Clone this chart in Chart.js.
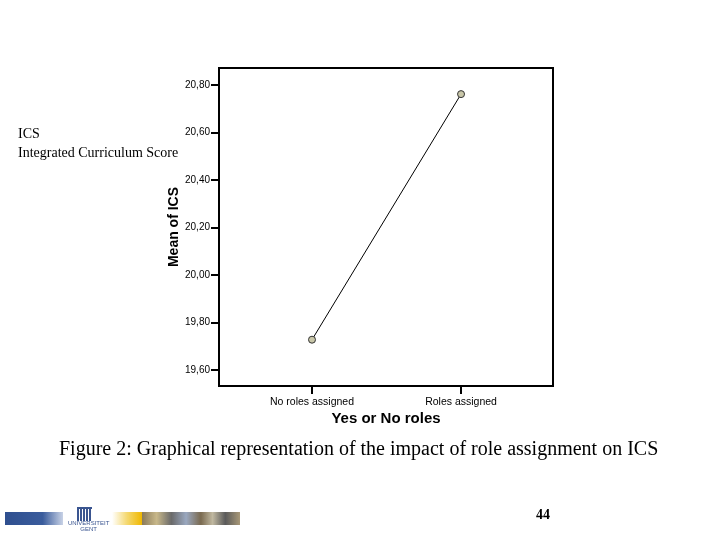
<!DOCTYPE html>
<html>
<head>
<meta charset="utf-8">
<script src="https://cdn.jsdelivr.net/npm/chart.js@4.4.0/dist/chart.umd.min.js"></script>
<style>
  html, body { margin: 0; padding: 0; background: #fff; }
  #wrap { position: relative; width: 720px; height: 540px; overflow: hidden; }
  #c { position: absolute; left: 0; top: 0; }
  .note { position: absolute; font-family: "Liberation Serif", "DejaVu Serif", serif; color: #000; white-space: nowrap; }
  .logo { position: absolute; }
</style>
</head>
<body>
<div id="wrap">
  <canvas id="c" width="720" height="540"></canvas>
  <div class="note" style="left:18px; top:124px; font-size:14px; line-height:19px;">ICS<br>Integrated Curriculum Score</div>
  <div class="note" style="left:59px; top:437px; font-size:20px;">Figure 2: Graphical representation of the impact of role assignment on ICS</div>
  <div class="note" style="left:536px; top:507px; font-size:14px; font-weight:bold;">44</div>
  <div class="logo" style="left:5px; top:512px; width:58px; height:13px; background:linear-gradient(to right,#2f4f8f 0%,#3a5c9c 65%,#c8d2e6 100%);"></div>
  <div class="logo" style="left:77px; top:507px; width:15px; height:12px; background:repeating-linear-gradient(to right,#3a5590 0 2px,#fff 2px 3px); border-top:2px solid #3a5590;"></div>
  <div class="note" style="left:68px; top:520px; font-size:6px; color:#3a5590; font-family:'Liberation Sans',sans-serif; line-height:6px; text-align:center;">UNIVERSITEIT<br>GENT</div>
  <div class="logo" style="left:112px; top:512px; width:30px; height:13px; background:linear-gradient(to right,#fff 0%,#f4d870 50%,#f0b800 100%);"></div>
  <div class="logo" style="left:142px; top:512px; width:98px; height:13px; background:linear-gradient(to right,#8a7a5a 0%,#c8b88a 15%,#6a6a6a 30%,#9aa8c0 45%,#7a6a50 60%,#c0b8a0 72%,#5a5a5a 85%,#a89878 100%);"></div>
</div>
<script>
const categories = ["No roles assigned", "Roles assigned"];
const meanICS = [19.728, 20.762];
const yTickValues = [19.6, 19.8, 20.0, 20.2, 20.4, 20.6, 20.8];
const yTickLabels = ["19,60", "19,80", "20,00", "20,20", "20,40", "20,60", "20,80"];
const xTitle = "Yes or No roles";
const yTitle = "Mean of ICS";

const framePlugin = {
  id: 'frame',
  afterDatasetsDraw(chart) {
    const a = chart.chartArea, ctx = chart.ctx;
    ctx.save();
    ctx.strokeStyle = '#000';
    ctx.lineWidth = 2;
    ctx.strokeRect(a.left, a.top, a.right - a.left, a.bottom - a.top);
    ctx.restore();
  }
};

new Chart(document.getElementById('c'), {
  type: 'line',
  data: {
    datasets: [{
      data: meanICS.map((v, i) => ({ x: i, y: v })),
      borderColor: '#000',
      borderWidth: 1,
      pointRadius: 3.5,
      pointBackgroundColor: '#c8c6a8',
      pointBorderColor: '#333',
      pointBorderWidth: 1,
      tension: 0
    }]
  },
  options: {
    responsive: false,
    animation: false,
    devicePixelRatio: 1,
    layout: { padding: { left: 160, top: 68, right: 167, bottom: 112 } },
    plugins: { legend: { display: false }, tooltip: { enabled: false } },
    scales: {
      x: {
        type: 'linear',
        min: -0.624,
        max: 1.617,
        afterBuildTicks(scale) { scale.ticks = categories.map((c, i) => ({ value: i })); },
        afterFit(scale) { scale.height = 42; },
        ticks: {
          callback: (v) => categories[v],
          color: '#000',
          font: { family: 'Liberation Sans, Arial, sans-serif', size: 10.5 },
          padding: 2,
          maxRotation: 0
        },
        grid: { drawOnChartArea: false, drawTicks: true, tickLength: 8, color: '#000', lineWidth: 2 },
        border: { display: false },
        title: {
          display: true,
          text: xTitle,
          color: '#000',
          font: { family: 'Liberation Sans, Arial, sans-serif', size: 15, weight: 'bold' },
          padding: { top: 0, bottom: 0 }
        }
      },
      y: {
        type: 'linear',
        min: 19.533,
        max: 20.872,
        afterBuildTicks(scale) { scale.ticks = yTickValues.map(v => ({ value: v })); },
        afterFit(scale) { scale.width = 59; },
        ticks: {
          callback: (v) => { const i = yTickValues.findIndex(t => Math.abs(t - v) < 1e-6); return i >= 0 ? yTickLabels[i] : ''; },
          color: '#000',
          font: { family: 'Liberation Sans, Arial, sans-serif', size: 10 },
          padding: 1
        },
        grid: { drawOnChartArea: false, drawTicks: true, tickLength: 8, color: '#000', lineWidth: 2 },
        border: { display: false },
        title: {
          display: true,
          text: yTitle,
          color: '#000',
          font: { family: 'Liberation Sans, Arial, sans-serif', size: 14, weight: 'bold' },
          padding: { top: 6, bottom: 0 }
        }
      }
    }
  },
  plugins: [framePlugin]
});
</script>
</body>
</html>
